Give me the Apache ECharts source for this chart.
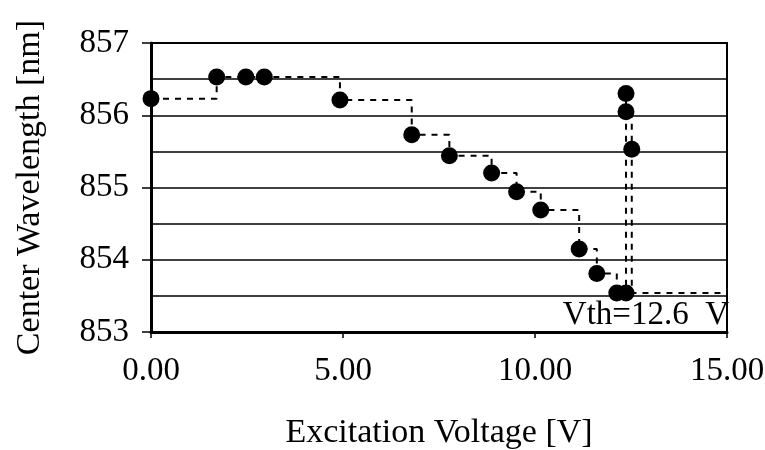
<!DOCTYPE html>
<html>
<head>
<meta charset="utf-8">
<script src="https://cdn.jsdelivr.net/npm/echarts@6/dist/echarts.min.js"></script>
<style>
  html, body { margin: 0; padding: 0; background: #fff; }
  #chart { width: 765px; height: 450px; }
</style>
</head>
<body>
<div id="chart"></div>
<script>
// measured points, in the order the dashed trace joins them
const voltage = [0.00, 1.71, 2.47, 2.95, 4.92, 6.79, 7.77, 8.87, 9.52, 10.15, 11.15, 11.61, 12.13, 12.37, 12.37, 12.37, 12.52];
const wavelength = [856.23, 856.53, 856.53, 856.53, 856.21, 855.73, 855.44, 855.20, 854.94, 854.69, 854.15, 853.81, 853.54, 853.54, 856.30, 856.05, 855.53];

// dashed trace continues past the last point down to threshold and out to the edge
const tailVoltage = [12.52, 15.00];
const tailWavelength = [853.54, 853.54];

const xTicks = [0, 5, 10, 15];
const yTicks = [853, 854, 855, 856, 857];
const vthLabel = "Vth=12.6  V";

const points = voltage.map((v, i) => [v, wavelength[i]]);
const trace = points.concat(tailVoltage.map((v, i) => [v, tailWavelength[i]]));

const font = "'Liberation Serif', 'DejaVu Serif', serif";

const chart = echarts.init(document.getElementById("chart"));

const option = {
  animation: false,
  backgroundColor: "#fff",
  grid: {
    left: 151,
    right: 38,
    top: 43,
    bottom: 118,
    outerBoundsMode: "none",
    show: true,
    borderColor: "#000",
    borderWidth: 2,
  },
  xAxis: {
    type: "value",
    min: xTicks[0],
    max: xTicks[xTicks.length - 1],
    interval: 5,
    name: "Excitation Voltage [V]",
    nameLocation: "middle",
    nameGap: 84,
    nameTextStyle: { fontFamily: font, fontSize: 34, color: "#000" },
    axisLine: { show: true, lineStyle: { color: "#000", width: 3 } },
    axisTick: { show: true, inside: false, length: 6, lineStyle: { color: "#000", width: 1.5 } },
    splitLine: { show: false },
    axisLabel: {
      fontFamily: font,
      fontSize: 33,
      color: "#000",
      margin: 23,
      formatter: (v) => v.toFixed(2),
    },
  },
  yAxis: {
    type: "value",
    min: yTicks[0],
    max: yTicks[yTicks.length - 1],
    interval: 1,
    name: "Center Wavelength [nm]",
    nameLocation: "middle",
    nameGap: 104,
    nameTextStyle: { fontFamily: font, fontSize: 34, color: "#000" },
    axisLine: { show: true, lineStyle: { color: "#000", width: 3 } },
    axisTick: { show: true, inside: false, length: 9, lineStyle: { color: "#000", width: 1.5 } },
    minorTick: { show: false, splitNumber: 2 },
    splitLine: { show: true, lineStyle: { color: "#000", width: 1.5 } },
    minorSplitLine: { show: true, lineStyle: { color: "#000", width: 1.5 } },
    axisLabel: {
      fontFamily: font,
      fontSize: 33,
      color: "#000",
      margin: 22,
    },
  },
  graphic: [
    {
      type: "text",
      right: 36,
      top: 299,
      style: {
        text: vthLabel,
        fontFamily: font,
        fontSize: 33,
        fill: "#000",
      },
    },
  ],
  series: [
    {
      name: "trace",
      type: "line",
      data: trace,
      step: "end",
      symbol: "none",
      lineStyle: { color: "#000", width: 2, type: [6, 6] },
      z: 2,
    },
    {
      name: "points",
      type: "scatter",
      data: points,
      symbol: "circle",
      symbolSize: 17,
      itemStyle: { color: "#000", opacity: 1 },
      z: 3,
    },
  ],
};

chart.setOption(option);
</script>
</body>
</html>
